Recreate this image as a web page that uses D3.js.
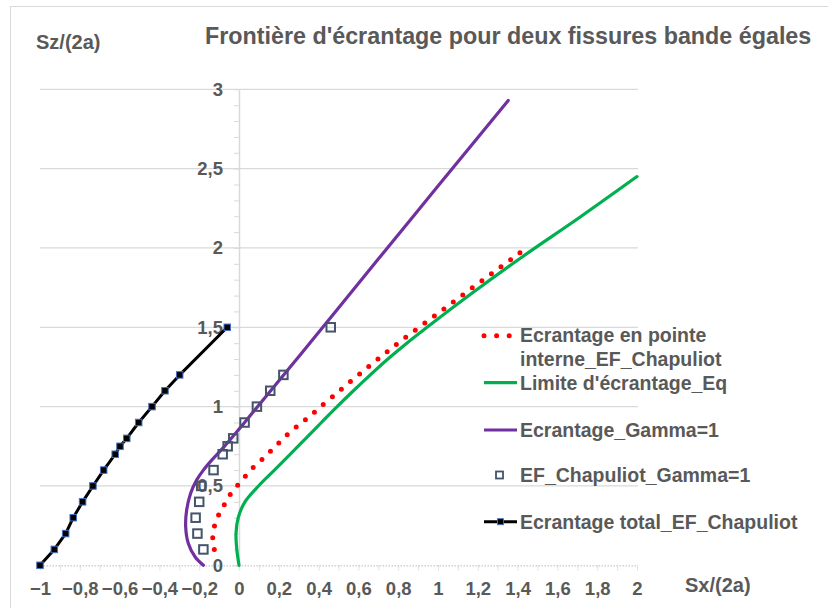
<!DOCTYPE html>
<html><head><meta charset="utf-8">
<script src="https://cdn.jsdelivr.net/npm/d3@7"></script>
<style>
html,body{margin:0;padding:0;background:#fff;}
svg{display:block;font-family:"Liberation Sans",Arial,sans-serif;font-weight:bold;}
</style></head>
<body>
<svg id="chart" width="828" height="608"></svg>
<script>
// ---- data (Sx/(2a), Sz/(2a)) ----
const redX   = [-0.124,-0.132,-0.124,-0.104,-0.075,-0.044,-0.007,0.030,0.070,0.114,0.156,0.198,0.240,0.285,0.328,0.467,0.742,1.077,1.412];
const redY   = [0.100,0.170,0.243,0.313,0.380,0.447,0.504,0.558,0.615,0.665,0.716,0.769,0.821,0.870,0.911,1.060,1.344,1.660,1.970];
const greenX = [0,-0.011,-0.015,-0.004,0.030,0.098,0.178,0.258,0.336,0.414,0.493,0.575,0.660,0.748,0.843,0.945,1.155,1.412,1.720,2.000];
const greenY = [0,0.1,0.2,0.3,0.4,0.5,0.6,0.7,0.8,0.9,1.0,1.1,1.2,1.3,1.4,1.5,1.7,1.934,2.2,2.45];
const purpleX = [-0.179,-0.221,-0.255,-0.268,-0.263,-0.243,-0.213,-0.179,-0.137,-0.080,0.028,0.300,0.700,1.000,1.353];
const purpleY = [0,0.054,0.139,0.243,0.348,0.454,0.537,0.600,0.663,0.740,0.900,1.315,1.930,2.390,2.930];
const squareX = [-0.179,-0.209,-0.218,-0.200,-0.190,-0.128,-0.082,-0.057,-0.029,0.028,0.090,0.157,0.223,0.461];
const squareY = [0.1,0.2,0.3,0.4,0.5,0.6,0.7,0.75,0.8,0.9,1.0,1.1,1.2,1.5];
const blackX = [-1,-0.928,-0.871,-0.833,-0.786,-0.734,-0.680,-0.622,-0.598,-0.564,-0.504,-0.437,-0.372,-0.298,-0.059];
const blackY = [0,0.1,0.2,0.3,0.4,0.5,0.6,0.7,0.75,0.8,0.9,1.0,1.1,1.2,1.5];
const xTicks = [-1,-0.8,-0.6,-0.4,-0.2,0,0.2,0.4,0.6,0.8,1,1.2,1.4,1.6,1.8,2];
const yTicks = [0,0.5,1,1.5,2,2.5,3];
const seriesNames = ["Ecrantage en pointe interne_EF_Chapuliot","Limite d'écrantage_Eq","Ecrantage_Gamma=1","EF_Chapuliot_Gamma=1","Ecrantage total_EF_Chapuliot"];
const titleText = "Frontière d'écrantage pour deux fissures bande égales";
const xTitle = "Sx/(2a)", yTitle = "Sz/(2a)";

// ---- setup ----
const svg = d3.select("#chart");
const TXT = "#595959", GRID = "#d9d9d9";
const x = d3.scaleLinear([-1, 2], [40, 637]);
const y = d3.scaleLinear([0, 3], [565.3, 89.3]);
const loc = d3.formatLocale({decimal: ",", thousands: " ", grouping: [3], currency: ["", ""]});
const fmt = v => loc.format("")(+v.toFixed(1));
const zip = (a, b) => a.map((v, i) => [v, b[i]]);

// frame
svg.append("rect").attr("x", 10.5).attr("y", 6.5).attr("width", 830).attr("height", 620)
  .attr("fill", "none").attr("stroke", GRID);

// horizontal gridlines
svg.append("g").selectAll("line").data(yTicks.filter(d => d > 0)).join("line")
  .attr("x1", x(-1)).attr("x2", x(2) + 1).attr("y1", d => y(d)).attr("y2", d => y(d))
  .attr("stroke", GRID).attr("stroke-width", 1.2);

// x axis line (dotted) + minor ticks
const minorX = d3.range(-10, 21).map(i => i / 10);
const gxm = svg.append("g").attr("transform", `translate(0,${y(0)})`)
  .call(d3.axisBottom(x).tickValues(minorX).tickSize(5).tickFormat("").tickSizeOuter(0));
gxm.select(".domain").attr("stroke", "#c8c8c8").attr("stroke-dasharray", "1.5 1.5").attr("stroke-width", 1.2);
gxm.selectAll(".tick line").attr("stroke", "#c8c8c8").attr("stroke-dasharray", "1 1");

// x labels
const gx = svg.append("g").attr("transform", `translate(0,${y(0)})`)
  .call(d3.axisBottom(x).tickValues(xTicks).tickSize(0).tickPadding(17).tickFormat(fmt));
gx.select(".domain").remove();
gx.selectAll("text").attr("fill", TXT).style("font-size", "18.5px").style("font-family", "Liberation Sans, Arial, sans-serif").style("font-weight", "bold");

// y axis line + minor ticks
const minorY = d3.range(0, 31).map(i => i / 10);
const gym = svg.append("g").attr("transform", `translate(${x(0)},0)`)
  .call(d3.axisLeft(y).tickValues(minorY).tickSize(5).tickFormat("").tickSizeOuter(0));
gym.select(".domain").attr("stroke", GRID).attr("stroke-width", 1.5);
gym.selectAll(".tick line").attr("stroke", GRID).attr("stroke-width", 1);

// y labels
const gy = svg.append("g").attr("transform", `translate(${x(0)},0)`)
  .call(d3.axisLeft(y).tickValues(yTicks).tickSize(0).tickPadding(16).tickFormat(fmt));
gy.select(".domain").remove();
gy.selectAll("text").attr("fill", TXT).style("font-size", "18.5px").style("font-family", "Liberation Sans, Arial, sans-serif").style("font-weight", "bold");

// ---- series ----
const smooth = d3.line().x(d => x(d[0])).y(d => y(d[1])).curve(d3.curveCatmullRom.alpha(0.5));
const straight = d3.line().x(d => x(d[0])).y(d => y(d[1]));
const plot = svg.append("g");

const redPath = plot.append("path").attr("d", smooth(zip(redX, redY))).attr("fill", "none")
  .attr("stroke", "#ff0000").attr("stroke-width", 5).attr("stroke-linecap", "round");
const L = redPath.node().getTotalLength();
const gap = (L / Math.round(L / 11.9)) * 0.9995;
redPath.attr("stroke-dasharray", `0 ${gap}`);

plot.append("path").attr("d", smooth(zip(greenX, greenY))).attr("fill", "none")
  .attr("stroke", "#00b050").attr("stroke-width", 3.2).attr("stroke-linecap", "round");
plot.append("path").attr("d", smooth(zip(purpleX, purpleY))).attr("fill", "none")
  .attr("stroke", "#7030a0").attr("stroke-width", 3.2).attr("stroke-linecap", "round");

const sq = 8.5;
plot.append("g").selectAll("rect").data(zip(squareX, squareY)).join("rect")
  .attr("x", d => x(d[0]) - sq / 2).attr("y", d => y(d[1]) - sq / 2).attr("width", sq).attr("height", sq)
  .attr("fill", "none").attr("stroke", "#44546a").attr("stroke-width", 2);

plot.append("path").attr("d", straight(zip(blackX, blackY))).attr("fill", "none")
  .attr("stroke", "#000").attr("stroke-width", 3).attr("stroke-linejoin", "round");
const bs = 6.5;
plot.append("g").selectAll("rect").data(zip(blackX, blackY)).join("rect")
  .attr("x", d => x(d[0]) - bs / 2).attr("y", d => y(d[1]) - bs / 2).attr("width", bs).attr("height", bs)
  .attr("fill", "#000").attr("stroke", "#4472c4").attr("stroke-width", 1);

// ---- titles ----
svg.append("text").attr("x", 205).attr("y", 43.5).attr("fill", TXT).style("font-size", "23.3px").text(titleText);
svg.append("text").attr("x", 36).attr("y", 48.5).attr("fill", TXT).style("font-size", "20px").text(yTitle);
svg.append("text").attr("x", 685).attr("y", 591.5).attr("fill", TXT).style("font-size", "20px").text(xTitle);

// ---- legend ----
const lg = svg.append("g").style("font-size", "19.5px").attr("fill", TXT);
const lx0 = 484, lx1 = 517, tx = 520;
// 1 red dots
lg.append("line").attr("x1", lx0).attr("x2", lx1 - 7).attr("y1", 335.7).attr("y2", 335.7)
  .attr("stroke", "#ff0000").attr("stroke-width", 5).attr("stroke-linecap", "round").attr("stroke-dasharray", "0 12.6");
const t1 = lg.append("text").attr("x", tx).attr("y", 342);
t1.append("tspan").attr("x", tx).text("Ecrantage en pointe");
t1.append("tspan").attr("x", tx).attr("y", 365.5).text("interne_EF_Chapuliot");
// 2 green
lg.append("line").attr("x1", lx0).attr("x2", lx1).attr("y1", 382.7).attr("y2", 382.7).attr("stroke", "#00b050").attr("stroke-width", 3.2);
lg.append("text").attr("x", tx).attr("y", 389.5).text(seriesNames[1]);
// 3 purple
lg.append("line").attr("x1", lx0).attr("x2", lx1).attr("y1", 430).attr("y2", 430).attr("stroke", "#7030a0").attr("stroke-width", 3.2);
lg.append("text").attr("x", tx).attr("y", 436.5).text(seriesNames[2]);
// 4 squares
lg.append("rect").attr("x", 499.5 - 3.5).attr("y", 475 - 3.5).attr("width", 7).attr("height", 7)
  .attr("fill", "none").attr("stroke", "#44546a").attr("stroke-width", 1.8);
lg.append("text").attr("x", tx).attr("y", 482).text(seriesNames[3]);
// 5 black
lg.append("line").attr("x1", lx0).attr("x2", lx1).attr("y1", 521.7).attr("y2", 521.7).attr("stroke", "#000").attr("stroke-width", 3);
lg.append("rect").attr("x", 500.5 - 3).attr("y", 521.7 - 3).attr("width", 6).attr("height", 6)
  .attr("fill", "#000").attr("stroke", "#4472c4").attr("stroke-width", 0.9);
lg.append("text").attr("x", tx).attr("y", 528.5).text(seriesNames[4]);
</script>
</body></html>
